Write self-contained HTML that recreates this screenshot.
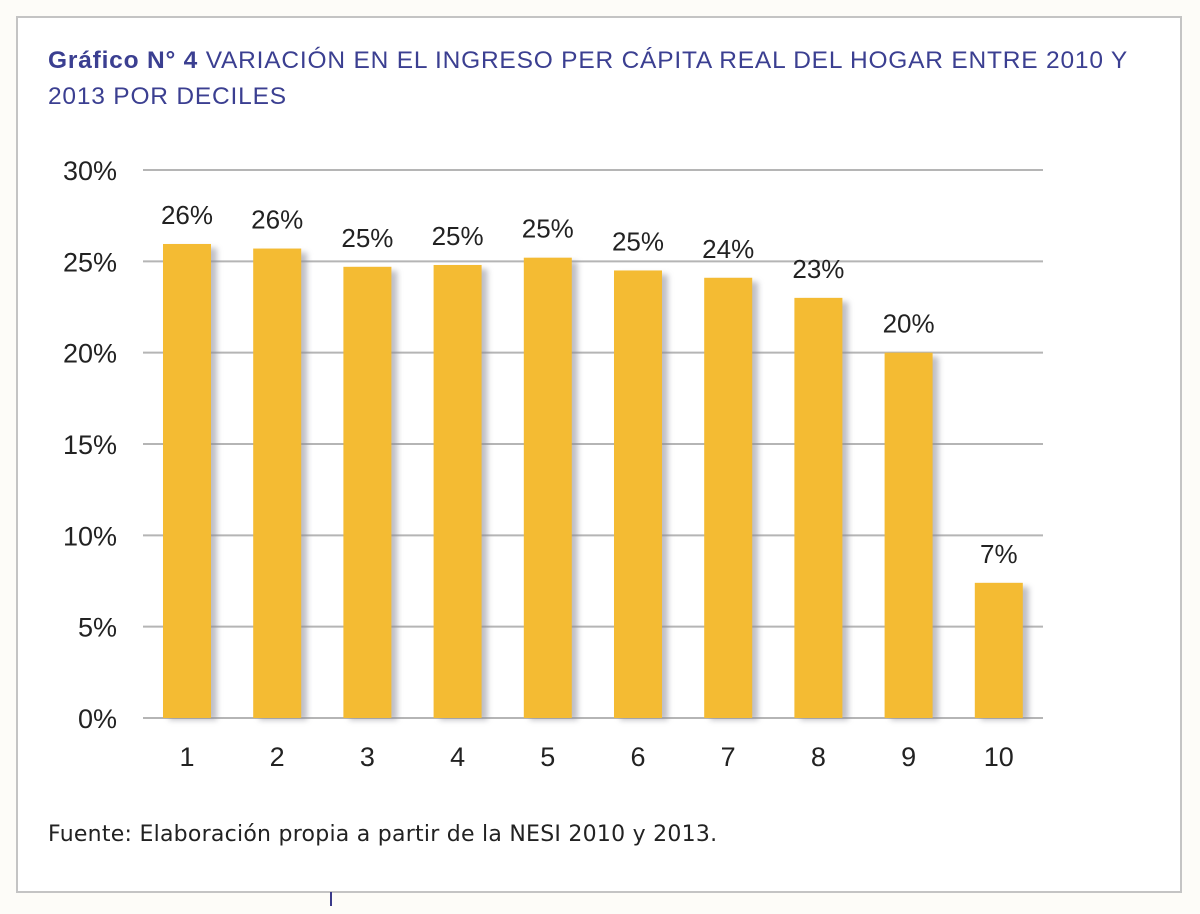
<!DOCTYPE html>
<html><head><meta charset="utf-8"><style>
body{margin:0;background:#fdfcf8;width:1200px;height:909px;overflow:hidden;font-family:"Liberation Sans",sans-serif}
</style></head><body>
<svg width="1200" height="909">
<defs><filter id="sh" x="-20%" y="-5%" width="160%" height="115%"><feGaussianBlur stdDeviation="3"/></filter></defs>
<rect x="17" y="17" width="1164" height="875" fill="#fff" stroke="#c4c4c4" stroke-width="2"/>
<line x1="331" y1="892" x2="331" y2="906" stroke="#3a3a8a" stroke-width="2"/>
<text x="48" y="68" font-size="24.5" fill="#3b3f91" letter-spacing="0.8"><tspan font-weight="bold">Gráfico N° 4</tspan> VARIACIÓN EN EL INGRESO PER CÁPITA REAL DEL HOGAR ENTRE 2010 Y</text>
<text x="48" y="104" font-size="24.5" fill="#3b3f91" letter-spacing="0.8">2013 POR DECILES</text>
<g id="grid"></g><g id="bars"></g>
<text x="48" y="841" font-size="22" fill="#222" font-family="DejaVu Sans, sans-serif" letter-spacing="0.25">Fuente: Elaboración propia a partir de la NESI 2010 y 2013.</text>
</svg>
<script>
const categories=["1","2","3","4","5","6","7","8","9","10"];
const values=[25.95,25.7,24.7,24.8,25.2,24.5,24.1,23.0,20.0,7.4];
const valueLabels=["26%","26%","25%","25%","25%","25%","24%","23%","20%","7%"];
const ticks=[0,5,10,15,20,25,30];
const tickLabels=["0%","5%","10%","15%","20%","25%","30%"];
const NS="http://www.w3.org/2000/svg";
const y=v=>718-v*(548/30);
const x=i=>187+i*90.2;
function mk(t,a,p){const e=document.createElementNS(NS,t);for(const k in a)e.setAttribute(k,a[k]);p.appendChild(e);return e;}
const g=document.getElementById('grid'),b=document.getElementById('bars');
ticks.forEach((t,i)=>{
 const l=mk('line',{x1:143,x2:1043,y1:y(t),y2:y(t),stroke:'#b5b5b5','stroke-width':2},g);
 
 
 const tx=mk('text',{x:117,y:y(t)+10,'text-anchor':'end','font-size':27,fill:'#222'},g);
 tx.textContent=tickLabels[i];
 
 
});
categories.forEach((c,i)=>{
 const s=mk('rect',{x:x(i)-18,y:y(values[i])+4,width:48,height:718-y(values[i])-2,fill:'#8a8a95',opacity:0.55,filter:'url(#sh)'},b);
 
 
 const r=mk('rect',{x:x(i)-24,y:y(values[i]),width:48,height:718-y(values[i]),fill:'#f4bb33'},b);
 
 
 const vl=mk('text',{x:x(i),y:y(values[i])-20,'text-anchor':'middle','font-size':26,fill:'#222'},b);
 vl.textContent=valueLabels[i];
 
 
 const cl=mk('text',{x:x(i),y:766,'text-anchor':'middle','font-size':27,fill:'#222'},b);
 cl.textContent=c;
 
 
});
</script>
</body></html>
